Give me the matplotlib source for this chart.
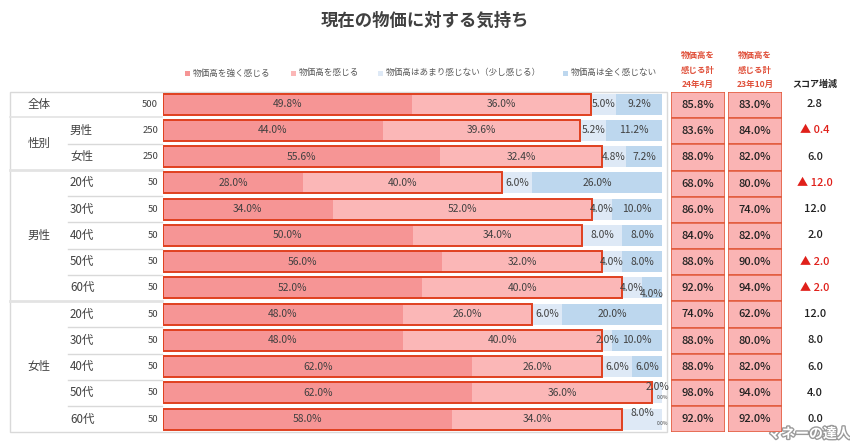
import numpy as np
import matplotlib as mpl
import matplotlib.pyplot as plt
from matplotlib.patches import Rectangle
import matplotlib.patheffects as pe

mpl.rcParams['font.family'] = ['Noto Sans CJK JP', 'DejaVu Sans']

# ---- data ----
title = '現在の物価に対する気持ち'
series = ['物価高を強く感じる', '物価高を感じる', '物価高はあまり感じない（少し感じる）', '物価高は全く感じない']
groups = ['全体', '性別', '男性', '女性']
sub_labels = ['', '男性', '女性', '20代', '30代', '40代', '50代', '60代',
              '20代', '30代', '40代', '50代', '60代']
counts = [500, 250, 250, 50, 50, 50, 50, 50, 50, 50, 50, 50, 50]
strong = [49.8, 44.0, 55.6, 28.0, 34.0, 50.0, 56.0, 52.0, 48.0, 48.0, 62.0, 62.0, 58.0]
feel = [36.0, 39.6, 32.4, 40.0, 52.0, 34.0, 32.0, 40.0, 26.0, 40.0, 26.0, 36.0, 34.0]
little = [5.0, 5.2, 4.8, 6.0, 4.0, 8.0, 4.0, 4.0, 6.0, 2.0, 6.0, 2.0, 8.0]
none_ = [9.2, 11.2, 7.2, 26.0, 10.0, 8.0, 8.0, 4.0, 20.0, 10.0, 6.0, 0.0, 0.0]
total_apr24 = [85.8, 83.6, 88.0, 68.0, 86.0, 84.0, 88.0, 92.0, 74.0, 88.0, 88.0, 98.0, 92.0]
total_oct23 = [83.0, 84.0, 82.0, 80.0, 74.0, 82.0, 90.0, 94.0, 62.0, 80.0, 82.0, 94.0, 92.0]
score = ['2.8', '▲ 0.4', '6.0', '▲ 12.0', '12.0', '2.0', '▲ 2.0', '▲ 2.0',
         '12.0', '8.0', '6.0', '4.0', '0.0']
col_heads = ['物価高を\n感じる計\n24年4月', '物価高を\n感じる計\n23年10月']

colors = ['#F69595', '#FBB7B7', '#DEE9F6', '#BDD7EE']
red_line = '#E0401F'
cell_fill = '#FAB4B4'
cell_edge = '#E25A3C'
txt = '#404040'
grid = '#D9D9D9'

W, H = 850, 447
n = len(counts)
top, rh = 91.0, 26.25


def px_axes(x, y, w, h):
    return fig.add_axes([x / W, 1 - (y + h) / H, w / W, h / H])


def row_y(i):
    return top + rh * (i + 0.5)


fig = plt.figure(figsize=(W / 100, H / 100), dpi=100)

# background axes in pixel coords for table text / frame
bg = fig.add_axes([0, 0, 1, 1])
bg.set_xlim(0, W)
bg.set_ylim(H, 0)
bg.axis('off')

bg.text(425, 21, title, ha='center', va='center', fontsize=12.5, fontweight='bold', color=txt)

# legend
leg_x = [185, 291, 378, 563]
for lx, lab, c in zip(leg_x, series, colors):
    bg.add_patch(Rectangle((lx, 70.5), 5, 5, color=c, lw=0))
    bg.text(lx + 8, 73, lab, ha='left', va='center', fontsize=6.2, color='#595959')

# column headers
for cx, head in zip([698, 755], col_heads):
    bg.text(cx, 70, head, ha='center', va='center', fontsize=6.1, fontweight='bold',
            color='#E0503A', linespacing=1.75)
bg.text(815, 84, 'スコア増減', ha='center', va='center', fontsize=6.5, fontweight='bold', color='#222222')

# table frame
bottom = top + rh * n
bg.add_patch(Rectangle((10, top + 1), 657, bottom - top - 1, fill=False, ec=grid, lw=1))

# separators
group_ends = {0: 'g', 2: 'g', 7: 'g'}
for i in range(n - 1):
    y = top + rh * (i + 1)
    if i in group_ends:
        bg.plot([10, 162], [y, y], color='#E3E3E3', lw=2 if i > 0 else 1.2)
    else:
        bg.plot([68, 162], [y, y], color=grid, lw=1)

# left labels
bg.text(39, row_y(0), groups[0], ha='center', va='center', fontsize=8.3, color=txt)
bg.text(39, (row_y(1) + row_y(2)) / 2, groups[1], ha='center', va='center', fontsize=8.3, color=txt)
bg.text(39, row_y(5), groups[2], ha='center', va='center', fontsize=8.3, color=txt)
bg.text(39, row_y(10), groups[3], ha='center', va='center', fontsize=8.3, color=txt)
for i in range(n):
    if sub_labels[i]:
        bg.text(70, row_y(i), sub_labels[i], ha='left', va='center', fontsize=8.3, color=txt)
    bg.text(158, row_y(i), str(counts[i]), ha='right', va='center', fontsize=6.8, color=txt)

# ---- stacked bars ----
ax = px_axes(163, top, 499, rh * n)
ys = np.arange(n)
vals = np.array([strong, feel, little, none_])
left = np.zeros(n)
bh = 0.8
for k in range(4):
    ax.barh(ys, vals[k], left=left, height=bh, color=colors[k], lw=0, zorder=1)
    for i in range(n):
        v = vals[k][i]
        cx = left[i] + v / 2
        dx, dy, fs = 0, 0, 7.4
        if k == 3 and i == 7:
            dy = -4.5
        if k == 2 and i in (11, 12):
            dy = 4.5
        if k == 3 and v == 0:
            fs, dy, dx = 3.5, -3, 0
        ax.annotate(f'{v:.1f}%', (cx, i), xytext=(dx, dy), textcoords='offset points',
                    ha='center', va='center', fontsize=fs, color=txt, zorder=4)
    left += vals[k]
ax.barh(ys, vals[0] + vals[1], height=bh, fill=False, ec=red_line, lw=1.4, zorder=3)
ax.set_xlim(0, 100)
ax.set_ylim(n - 0.5, -0.5)
ax.axis('off')

# ---- total columns ----
for cx, data in zip([671, 728], [total_apr24, total_oct23]):
    cax = px_axes(cx, top + 1, 54, rh * n - 1)
    cax.barh(ys, 1, height=1, color=cell_fill, ec=cell_edge, lw=1.1)
    for i in range(n):
        cax.text(0.5, i, f'{data[i]:.1f}%', ha='center', va='center', fontsize=8,
                 fontweight='medium', color='#222222')
    cax.set_xlim(0, 1)
    cax.set_ylim(n - 0.5, -0.5)
    cax.axis('off')

# score column
for i in range(n):
    c = '#E0201A' if score[i].startswith('▲') else '#222222'
    bg.text(815, row_y(i), score[i], ha='center', va='center', fontsize=8,
            fontweight='medium', color=c)

# watermark
bg.text(809, 434, 'マネーの達人', ha='center', va='center', fontsize=10, fontweight='bold',
        color='white', path_effects=[pe.withStroke(linewidth=2, foreground='#9A9A9A')])

fig.savefig('out.png', dpi=100)
